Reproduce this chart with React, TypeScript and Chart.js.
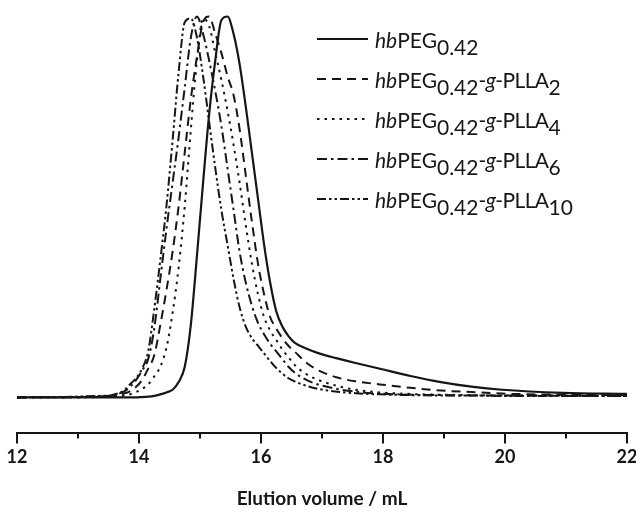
import React, { useEffect, useRef } from "react";
import { Chart, registerables } from "chart.js";

Chart.register(...registerables);

// Elution volume grid (mL)
const volumes = [12, 12.95, 13.35, 13.55, 13.75, 13.85, 13.95, 14.05, 14.15, 14.25, 14.35, 14.45, 14.55, 14.65, 14.75, 14.85, 14.95, 15.05, 15.15, 15.25, 15.35, 15.45, 15.55, 15.65, 15.75, 15.85, 15.95, 16.05, 16.15, 16.25, 16.35, 16.45, 16.55, 16.75, 16.95, 17.25, 17.55, 17.95, 18.45, 18.95, 19.45, 19.95, 20.95, 22];

// Normalised detector signal of each sample
const hbPEG = [0, 0, 0, 0, 0, 0, 0, 0.001, 0.002, 0.004, 0.008, 0.013, 0.02, 0.04, 0.08, 0.19, 0.37, 0.56, 0.74, 0.88, 0.985, 0.995, 0.95, 0.87, 0.76, 0.64, 0.52, 0.4, 0.3, 0.225, 0.185, 0.16, 0.143, 0.127, 0.115, 0.102, 0.09, 0.075, 0.056, 0.04, 0.028, 0.02, 0.012, 0.009];
const gPLLA2 = [0, 0.001, 0.002, 0.004, 0.01, 0.016, 0.027, 0.045, 0.075, 0.11, 0.19, 0.28, 0.38, 0.5, 0.64, 0.78, 0.89, 0.98, 0.995, 0.95, 0.9, 0.84, 0.79, 0.7, 0.58, 0.46, 0.35, 0.27, 0.21, 0.18, 0.155, 0.135, 0.12, 0.09, 0.07, 0.052, 0.042, 0.034, 0.025, 0.018, 0.014, 0.01, 0.007, 0.006];
const gPLLA4 = [0, 0, 0.001, 0.003, 0.005, 0.008, 0.014, 0.022, 0.034, 0.055, 0.08, 0.13, 0.22, 0.34, 0.5, 0.7, 0.88, 0.99, 0.97, 0.9, 0.83, 0.75, 0.66, 0.56, 0.45, 0.35, 0.27, 0.21, 0.175, 0.15, 0.125, 0.105, 0.085, 0.06, 0.045, 0.03, 0.02, 0.013, 0.009, 0.007, 0.006, 0.005, 0.005, 0.004];
const gPLLA6 = [0, 0.001, 0.003, 0.005, 0.015, 0.027, 0.045, 0.07, 0.1, 0.18, 0.31, 0.44, 0.56, 0.68, 0.81, 0.94, 0.995, 0.95, 0.88, 0.8, 0.71, 0.6, 0.49, 0.38, 0.3, 0.24, 0.195, 0.165, 0.14, 0.12, 0.1, 0.08, 0.065, 0.045, 0.033, 0.022, 0.015, 0.01, 0.007, 0.006, 0.005, 0.005, 0.004, 0.004];
const gPLLA10 = [0, 0.002, 0.004, 0.006, 0.018, 0.034, 0.05, 0.075, 0.12, 0.23, 0.36, 0.5, 0.67, 0.85, 0.98, 0.99, 0.94, 0.84, 0.72, 0.6, 0.49, 0.4, 0.31, 0.235, 0.185, 0.155, 0.135, 0.115, 0.095, 0.077, 0.062, 0.05, 0.042, 0.03, 0.022, 0.015, 0.011, 0.008, 0.006, 0.005, 0.005, 0.004, 0.004, 0.004];

const tickValues = [12, 13, 14, 15, 16, 17, 18, 19, 20, 21, 22];
const tickLabels = ["12", "", "14", "", "16", "", "18", "", "20", "", "22"];
const axisTitle = "Elution volume / mL";

const INK = "#161616";
const FONT = "Lato, 'Open Sans', sans-serif";

const dashes: number[][] = [[], [9, 6], [2.5, 5], [10, 4, 2.5, 4], [9, 3, 2.5, 3, 2.5, 3]];
const seriesValues = [hbPEG, gPLLA2, gPLLA4, gPLLA6, gPLLA10];
const seriesSubs = ["", "2", "4", "6", "10"];

function LegendLabel({ sub }: { sub: string }) {
  const subStyle: React.CSSProperties = { fontSize: "1em", position: "relative", top: "0.36em", lineHeight: 0 };
  return (
    <span>
      <i>hb</i>PEG<span style={subStyle}>0.42</span>
      {sub !== "" && (
        <>
          <span style={{ letterSpacing: "-0.6px" }}>
            -<i>g</i>-PLLA
          </span>
          <span style={subStyle}>{sub}</span>
        </>
      )}
    </span>
  );
}

const tickMarks = {
  id: "tickMarks",
  afterDraw(chart: any) {
    const sc = chart.scales.x;
    const ctx = chart.ctx;
    const y0 = chart.chartArea.bottom;
    ctx.save();
    ctx.strokeStyle = INK;
    ctx.lineWidth = 2;
    tickValues.forEach((v, i) => {
      const x = sc.getPixelForValue(v);
      const len = tickLabels[i] !== "" ? 10 : 5;
      ctx.beginPath();
      ctx.moveTo(x, y0);
      ctx.lineTo(x, y0 + len);
      ctx.stroke();
    });
    ctx.restore();
  },
};

export default function App() {
  const canvasRef = useRef<HTMLCanvasElement | null>(null);

  useEffect(() => {
    if (!canvasRef.current) return;
    const chart = new Chart(canvasRef.current, {
      type: "line",
      data: {
        datasets: seriesValues.map((vals, k) => ({
          label: "s" + k,
          data: volumes.map((x, i) => ({ x, y: vals[i] })),
          borderColor: INK,
          borderWidth: k === 0 ? 2.2 : 2,
          borderDash: dashes[k],
          pointRadius: 0,
          fill: false,
          cubicInterpolationMode: "monotone" as const,
        })),
      },
      options: {
        animation: false,
        responsive: false,
        events: [],
        layout: { padding: { left: 17, right: 9, top: 10, bottom: 0 } },
        plugins: { legend: { display: false }, tooltip: { enabled: false } },
        scales: {
          x: {
            type: "linear",
            min: 12,
            max: 22,
            afterBuildTicks: (scale: any) => {
              scale.ticks = tickValues.map((v) => ({ value: v }));
            },
            afterFit: (scale: any) => {
              scale.paddingLeft = 0;
              scale.paddingRight = 0;
            },
            border: { display: true, color: INK, width: 2 },
            grid: { display: true, drawOnChartArea: false, drawTicks: false },
            ticks: {
              autoSkip: false,
              maxRotation: 0,
              color: INK,
              padding: 13,
              font: { family: FONT, size: 18, weight: "bold" },
              callback: (_v: any, i: number) => tickLabels[i],
            },
            title: {
              display: true,
              text: axisTitle,
              color: INK,
              font: { family: FONT, size: 19, weight: "bold", lineHeight: 1.0 },
              padding: { top: 8, bottom: 0 },
            },
          },
          y: { display: false, min: -0.094, max: 1.012 },
        },
      },
      plugins: [tickMarks],
    } as any);
    return () => chart.destroy();
  }, []);

  return (
    <div style={{ position: "absolute", left: 0, top: 0, width: 636, height: 508, background: "#fff" }}>
      <canvas ref={canvasRef} width={636} height={508} style={{ display: "block" }} />
      <div style={{ position: "absolute", left: 317, top: 19, fontFamily: FONT, fontSize: 21, color: INK }}>
        {seriesSubs.map((s, k) => (
          <div key={k} style={{ display: "flex", alignItems: "center", height: 40 }}>
            <svg width={51} height={6} style={{ marginRight: 7 }}>
              <line x1={0} y1={3} x2={51} y2={3} stroke={INK} strokeWidth={2.2} strokeDasharray={dashes[k].length ? dashes[k].join(" ") : undefined} />
            </svg>
            <LegendLabel sub={s} />
          </div>
        ))}
      </div>
    </div>
  );
}
